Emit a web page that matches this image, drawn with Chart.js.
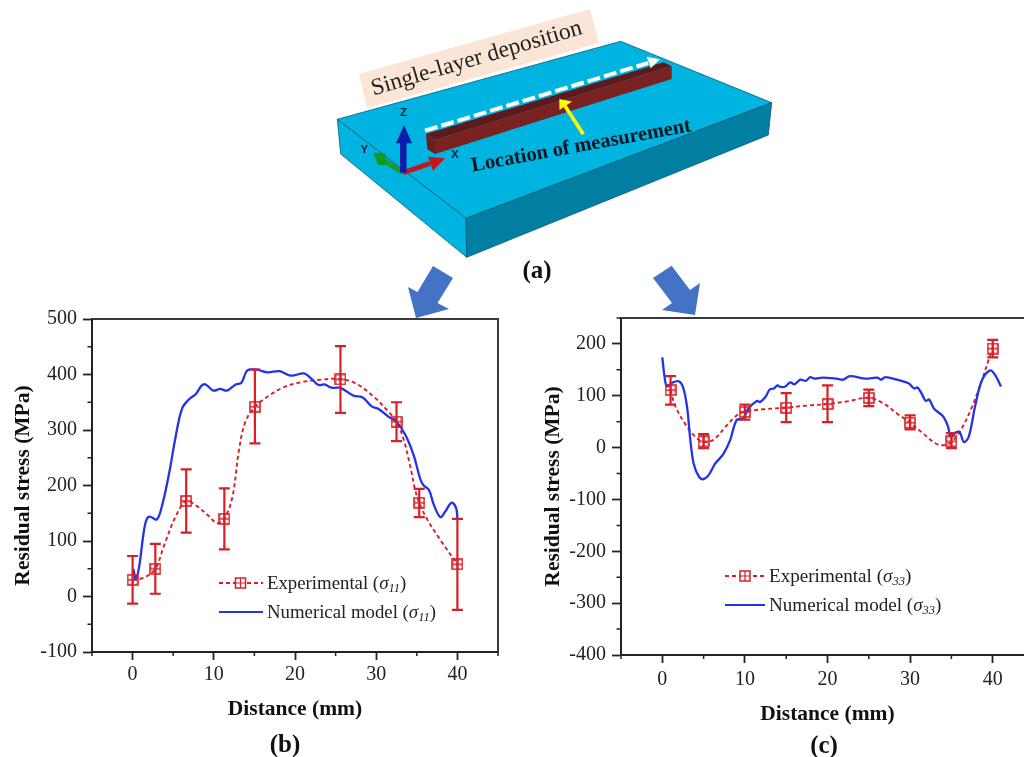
<!DOCTYPE html>
<html>
<head>
<meta charset="utf-8">
<title>Residual stress</title>
<script src="https://cdn.jsdelivr.net/npm/chart.js@4"></script>
<style>
  html, body { margin: 0; padding: 0; background: #fff; overflow: hidden; width: 1024px; height: 757px; }
  body { position: relative; font-family: "Liberation Serif", serif; color: #222; }
  canvas { position: absolute; }
  #sketch { position: absolute; left: 0; top: 0; z-index: 2; pointer-events: none; }
  .legend { position: absolute; z-index: 3; font-size: 18.8px; line-height: 20px; white-space: nowrap; }
  .legend.wide { font-size: 19.1px; }
  .legend i { font-size: 19px; }
  .legend sub { font-size: 12.5px; line-height: 0; font-style: italic; vertical-align: -3px; }
  .tag { position: absolute; z-index: 3; font-weight: bold; font-size: 25px; color: #111; transform: translateX(-50%); }
</style>
</head>
<body>
<canvas id="chartB" width="510" height="425" style="left:0;top:300px"></canvas>
<canvas id="chartC" width="530" height="430" style="left:530px;top:300px"></canvas>

<svg id="sketch" width="1024" height="757">
  <polygon points="359,74 590,9 599,43 367,108" fill="#fbe5d6"/>
  <text transform="translate(373.5,95.5) rotate(-16.4)" font-family="Liberation Serif" font-size="23.5" fill="#222">Single-layer deposition</text>
  <polygon points="337.3,119.3 620.7,41.3 771.7,102.7 466,218.3" fill="#00b4e1" stroke="#0a5a78" stroke-width="0.8"/>
  <polygon points="337.3,119.3 466,218.3 466.7,257.3 340.7,154" fill="#00b4e1" stroke="#0a5a78" stroke-width="0.8"/>
  <polygon points="466,218.3 771.7,102.7 768.3,135 466.7,257.3" fill="#007fa3" stroke="#0a5a78" stroke-width="0.8"/>
  <polygon points="426,134 663.3,62.3 671.7,66 435,140" fill="#5e1a1a"/>
  <polygon points="435,140 671.7,66 671.7,79 435,154" fill="#7a2222"/>
  <polygon points="426,134 435,140 435,154 427.3,149.3" fill="#6b1e1e"/>
  <line x1="425" y1="130.7" x2="648" y2="63" stroke="#fff" stroke-width="4" stroke-dasharray="13 4"/>
  <polygon points="646.7,56.7 660,59.3 650.7,68.3" fill="#fff"/>
  <line x1="583.3" y1="134.3" x2="565" y2="106" stroke="#ffff00" stroke-width="3.6"/>
  <polygon points="559.3,99 559.5,110 572,101.5" fill="#ffff00"/>
  <text transform="translate(472.5,171.5) rotate(-10.4)" font-family="Liberation Serif" font-weight="bold" font-size="20.5" fill="#0b1620">Location of measurement</text>
  <line x1="403.3" y1="172.7" x2="381" y2="159" stroke="#1c9a2a" stroke-width="5"/>
  <polygon points="373.3,153 385,153 386,165 378,165" fill="#119a22"/>
  <line x1="403.3" y1="172.7" x2="430" y2="163.5" stroke="#c8141c" stroke-width="5"/>
  <polygon points="445,158.3 428,156.7 433,170.7" fill="#c8141c"/>
  <line x1="403.3" y1="172.7" x2="403.3" y2="143" stroke="#0a1fa8" stroke-width="6.5"/>
  <polygon points="396,143.3 412,143.3 404,125" fill="#0a1fa8"/>
  <g font-family="Liberation Sans" font-weight="bold" font-size="11.5" fill="#10202c">
    <text x="400" y="116">Z</text>
    <text x="360.5" y="153">Y</text>
    <text x="451" y="158">X</text>
  </g>
  <polygon points="433,266 453,278 437.5,303 449,309 416,318 408,287 417.5,292" fill="#4472c4"/>
  <polygon points="671.7,265.7 690,290 700,283 695,315 662,310 672,303 653,278" fill="#4472c4"/>
</svg>

<div class="tag" style="left:537px;top:256px">(a)</div>
<div class="tag" style="left:285px;top:730px">(b)</div>
<div class="tag" style="left:824px;top:731px">(c)</div>

<div class="legend" style="left:219px;top:573px">
  <svg width="44" height="14" style="vertical-align:-1px;margin-right:4px"><line x1="0" y1="7" x2="44" y2="7" stroke="#d81f26" stroke-width="1.8" stroke-dasharray="4 3"/><rect x="16.5" y="2" width="10" height="10" fill="#fff" stroke="#d81f26" stroke-width="1.5"/><path d="M21.5 2V12M16.5 7H26.5" stroke="#d81f26" stroke-width="1.2"/></svg>Experimental (<i>σ<sub>11</sub></i>)
</div>
<div class="legend" style="left:219px;top:602px">
  <svg width="44" height="14" style="vertical-align:-1px;margin-right:4px"><line x1="0" y1="7" x2="44" y2="7" stroke="#2433e6" stroke-width="2.2"/></svg>Numerical model (<i>σ<sub>11</sub></i>)
</div>
<div class="legend wide" style="left:725px;top:566px">
  <svg width="40" height="14" style="vertical-align:-1px;margin-right:4px"><line x1="0" y1="7" x2="40" y2="7" stroke="#d81f26" stroke-width="1.8" stroke-dasharray="4 3"/><rect x="15" y="2" width="10" height="10" fill="#fff" stroke="#d81f26" stroke-width="1.5"/><path d="M20 2V12M15 7H25" stroke="#d81f26" stroke-width="1.2"/></svg>Experimental (<i>σ<sub>33</sub></i>)
</div>
<div class="legend wide" style="left:725px;top:595px">
  <svg width="40" height="14" style="vertical-align:-1px;margin-right:4px"><line x1="0" y1="7" x2="40" y2="7" stroke="#2433e6" stroke-width="2.2"/></svg>Numerical model (<i>σ<sub>33</sub></i>)
</div>

<script>
// shared axis ticks
const xTicks = [0, 10, 20, 30, 40];
const xMinor = [-5, 5, 15, 25, 35, 45];

// panel (b), sigma 11
const yTicksB = [-100, 0, 100, 200, 300, 400, 500];
const yMinorB = [-50, 50, 150, 250, 350, 450];
const measXB = [0, 2.8, 6.6, 11.3, 15.06, 25.6, 32.5, 35.3, 40];
const measYB = [30, 50, 172, 140, 342, 391, 315, 169, 58];
const errLowB = [-13, 5, 115, 85, 276, 331, 280, 143, -24];
const errHighB = [73, 95, 229, 195, 409, 451, 350, 194, 140];
const fitXB = [0, 1.4, 2.8, 3.9, 5.3, 6.6, 8, 9.4, 10.4, 11.3, 12.3, 13.1, 13.9, 15.06, 16.6, 18.6, 20.7, 22.7, 25.6, 27.6, 29.7, 31.5, 32.5, 33.4, 34.2, 34.8, 35.3, 36.2, 37.9, 40];
const fitYB = [30, 34, 50, 93, 144, 172, 162, 145, 132, 140, 180, 264, 315, 342, 360, 377, 386, 390, 392, 383, 360, 333, 315, 282, 234, 192, 169, 141, 102, 58];
const modelXB = [0.08, 0.4, 0.8, 1.35, 1.7, 2.1, 3, 3.7, 4.5, 5.3, 6.1, 7, 7.8, 8.5, 9, 9.95, 10.8, 11.6, 12.7, 13.4, 14.1, 15.1, 15.55, 16.6, 18.1, 19.5, 21.1, 21.9, 22.9, 23.6, 24.6, 25.6, 27.2, 28.3, 29.5, 30.3, 31.5, 32.5, 33.6, 34.6, 35.4, 35.8, 36.5, 37.1, 37.9, 38.5, 39.3, 39.85, 40];
const modelYB = [50, 32, 53, 114, 138, 144, 139, 168, 222, 288, 339, 356, 365, 380, 382, 371, 374, 371, 382, 385, 407, 409, 408, 404, 406, 398, 402, 394, 381, 382, 376, 376, 362, 359, 342, 338, 324, 315, 291, 255, 213, 201, 192, 165, 143, 153, 169, 159, 141];

// panel (c), sigma 33
const yTicksC = [-400, -300, -200, -100, 0, 100, 200];
const yMinorC = [-350, -250, -150, -50, 50, 150, 250];
const measXC = [1, 5, 10, 15, 20, 25, 30, 35, 40];
const measYC = [111, 12, 69, 77, 84, 96, 48, 12, 191];
const errLowC = [83, -1, 54, 49, 49, 80, 35, -1, 174];
const errHighC = [138, 26, 83, 105, 120, 112, 62, 28, 208];
const fitXC = [1, 1.57, 3, 4, 4.9, 6.2, 7.8, 9, 9.9, 12.3, 14.9, 17.5, 19.9, 22.3, 25, 26.8, 28.4, 30, 31.6, 33, 34, 35, 36, 37.4, 38.7, 39.5, 40];
const fitYC = [111, 80, 40, 21, 11, 15, 43, 62, 69, 74, 77, 81, 84, 89, 96, 85, 66, 48, 27, 9, 4.5, 11, 30, 75, 130, 169, 191];
const modelXC = [0, 0.28, 0.56, 1.17, 1.98, 2.5, 3, 3.4, 3.8, 4.4, 4.9, 5.6, 6.4, 7.4, 8.2, 9, 9.8, 10.4, 11.45, 11.85, 12.5, 13, 13.5, 13.95, 14.3, 14.9, 15.5, 16, 16.7, 17.4, 17.9, 18.4, 19.4, 21.1, 21.9, 22.7, 24.6, 26, 26.5, 27, 28.4, 29.8, 30.5, 30.9, 31.4, 31.9, 32.3, 32.9, 34, 34.6, 34.9, 35.5, 36, 36.5, 37.1, 37.9, 38.7, 39.7, 40.3, 41];
const modelYC = [174, 136, 118, 125, 128, 117, 78, 14, -31, -55, -61, -53, -31, -12, 14, 53, 56, 75, 90, 88, 98, 112, 114, 120, 117, 118, 126, 122, 131, 129, 136, 133, 135, 133, 131, 138, 133, 135, 131, 136, 131, 124, 114, 116, 104, 90, 93, 75, 60, 40, 21, 29, 30, 11, 21, 82, 130, 149, 140, 118];

const RED = "#d81f26";
const BLUE = "#2433e6";
const INK = "#222";

function zip(xs, ys) {
  return xs.map((x, i) => ({ x: x, y: ys[i] }));
}

// little square with a cross, used as point style
function makeMarker() {
  const c = document.createElement("canvas");
  c.width = 12;
  c.height = 12;
  const g = c.getContext("2d");
  g.strokeStyle = RED;
  g.lineWidth = 1.6;
  g.strokeRect(1, 1, 10, 10);
  g.lineWidth = 1.3;
  g.beginPath();
  g.moveTo(6, 1); g.lineTo(6, 11);
  g.moveTo(1, 6); g.lineTo(11, 6);
  g.stroke();
  return c;
}
const marker = makeMarker();

// error bars, box frame and minor ticks all go through the chart's scales
const extras = {
  id: "extras",
  beforeDatasetsDraw(chart, args, o) {
    const { ctx, chartArea: a, scales: { x, y } } = chart;
    ctx.save();
    ctx.strokeStyle = "#3a3a3a";
    ctx.lineWidth = 2;
    ctx.beginPath();
    ctx.moveTo(a.left, a.top); ctx.lineTo(a.right, a.top); ctx.lineTo(a.right, a.bottom);
    ctx.stroke();
    ctx.strokeStyle = INK;
    ctx.lineWidth = 1.5;
    ctx.beginPath();
    o.yMinor.forEach(v => {
      const p = y.getPixelForValue(v);
      ctx.moveTo(a.left, p); ctx.lineTo(a.left - 4.5, p);
    });
    xMinor.forEach(v => {
      const p = x.getPixelForValue(v);
      ctx.moveTo(p, a.bottom); ctx.lineTo(p, a.bottom + 4);
    });
    ctx.stroke();
    ctx.restore();
  },
  afterDatasetsDraw(chart, args, o) {
    const { ctx, scales: { x, y } } = chart;
    ctx.save();
    ctx.strokeStyle = RED;
    ctx.lineWidth = 2.2;
    ctx.beginPath();
    o.xs.forEach((v, i) => {
      const px = x.getPixelForValue(v);
      const lo = y.getPixelForValue(o.low[i]);
      const hi = y.getPixelForValue(o.high[i]);
      ctx.moveTo(px, lo); ctx.lineTo(px, hi);
      ctx.moveTo(px - 5.5, lo); ctx.lineTo(px + 5.5, lo);
      ctx.moveTo(px - 5.5, hi); ctx.lineTo(px + 5.5, hi);
    });
    ctx.stroke();
    // markers go back on top of the bars
    o.xs.forEach((v, i) => {
      ctx.drawImage(marker, x.getPixelForValue(v) - 6, y.getPixelForValue(o.ys[i]) - 6);
    });
    ctx.restore();
  }
};

function makeChart(id, d) {
  const font = { family: "Liberation Serif", size: 20 };
  const titleFont = { family: "Liberation Serif", size: 21.5, weight: "bold" };
  return new Chart(document.getElementById(id), {
    type: "line",
    plugins: [extras],
    data: {
      datasets: [
        { data: zip(d.modelX, d.modelY), borderColor: BLUE, borderWidth: 2.3, pointRadius: 0, tension: 0.35, fill: false },
        { data: zip(d.fitX, d.fitY), borderColor: RED, borderWidth: 1.9, borderDash: [4, 3], pointRadius: 0, tension: 0.35, fill: false }
      ]
    },
    options: {
      responsive: false,
      animation: false,
      layout: { padding: d.padding },
      plugins: {
        legend: { display: false },
        tooltip: { enabled: false },
        extras: { xs: d.measX, ys: d.measY, low: d.low, high: d.high, yMinor: d.yMinor }
      },
      scales: {
        x: {
          type: "linear", min: -5, max: 45,
          afterBuildTicks: s => { s.ticks = xTicks.map(v => ({ value: v })); },
          afterFit: s => { s.height = d.xAxisH; },
          grid: { drawOnChartArea: false, tickLength: 8, tickColor: INK, tickWidth: 1.8 },
          border: { color: INK, width: 2 },
          ticks: { color: INK, font: font, padding: d.xPad, maxRotation: 0, autoSkip: false },
          title: { display: true, text: "Distance (mm)", color: "#111", font: titleFont, padding: { top: 0, bottom: 0 } }
        },
        y: {
          type: "linear", min: d.yMin, max: d.yMax,
          afterBuildTicks: s => { s.ticks = d.yTicks.map(v => ({ value: v })); },
          afterFit: s => { s.width = d.yAxisW; },
          grid: { drawOnChartArea: false, tickLength: 9, tickColor: INK, tickWidth: 1.8 },
          border: { color: INK, width: 2 },
          ticks: { color: INK, font: font, padding: 6, autoSkip: false },
          title: { display: true, text: "Residual stress (MPa)", color: "#111", font: titleFont, padding: { top: 0, bottom: 0 } }
        }
      }
    }
  });
}

makeChart("chartB", {
  modelX: modelXB, modelY: modelYB, fitX: fitXB, fitY: fitYB,
  measX: measXB, measY: measYB, low: errLowB, high: errHighB,
  yTicks: yTicksB, yMinor: yMinorB, yMin: -100, yMax: 500,
  padding: { left: 11, top: 19, right: 12, bottom: 2.5 },
  yAxisW: 81, xAxisH: 70.5, xPad: 3
});

makeChart("chartC", {
  modelX: modelXC, modelY: modelYC, fitX: fitXC, fitY: fitYC,
  measX: measXC, measY: measYC, low: errLowC, high: errHighC,
  yTicks: yTicksC, yMinor: yMinorC, yMin: -400, yMax: 250,
  padding: { left: 11, top: 18, right: 26, bottom: 3 },
  yAxisW: 80, xAxisH: 72, xPad: 5
});
</script>
</body>
</html>
